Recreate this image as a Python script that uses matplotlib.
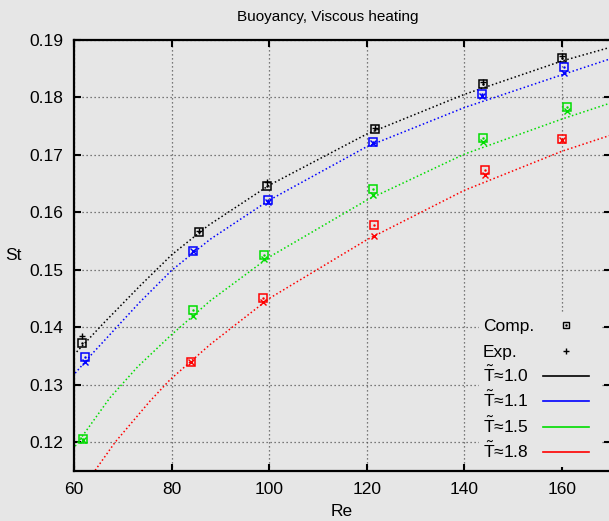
import matplotlib
matplotlib.use("Agg")
import matplotlib.pyplot as plt
from matplotlib.lines import Line2D
from matplotlib.patches import Rectangle

plt.rcParams['font.family'] = ['Liberation Sans', 'DejaVu Sans']
plt.rcParams['mathtext.fontset'] = 'custom'
plt.rcParams['mathtext.rm'] = 'Liberation Sans'
plt.rcParams['mathtext.it'] = 'Liberation Sans:italic'

# ---- data: markers (Comp. = squares, Exp. = crosses) ----
re_10 = [61.7, 85.6, 99.6, 121.7, 143.8, 160.1]
comp_10 = [0.1373, 0.1566, 0.1646, 0.1745, 0.1823, 0.1868]
exp_10 = [0.1384, 0.1567, 0.1652, 0.1746, 0.1826, 0.1872]

re_11 = [62.2, 84.4, 99.8, 121.2, 143.7, 160.5]
comp_11 = [0.1348, 0.1533, 0.1622, 0.1723, 0.1805, 0.1852]
exp_11 = [0.1340, 0.1532, 0.1617, 0.1721, 0.1803, 0.1843]

re_15 = [61.9, 84.3, 98.9, 121.2, 143.8, 161.1]
comp_15 = [0.1205, 0.1430, 0.1526, 0.1641, 0.1729, 0.1783]
exp_15 = [0.1204, 0.1420, 0.1518, 0.1630, 0.1723, 0.1776]

re_18 = [84.0, 98.8, 121.4, 144.3, 160.1]
comp_18 = [0.1339, 0.1450, 0.1578, 0.1673, 0.1728]
exp_18 = [0.1339, 0.1443, 0.1558, 0.1664, 0.1726]

# ---- data: fitted curves ----
fit_re_10 = [60.5, 65.8, 73.5, 80, 87.5, 100, 120, 140, 160, 170]
fit_st_10 = [0.1357, 0.1405, 0.1472, 0.1526, 0.1577, 0.1647, 0.1736, 0.1805, 0.1863, 0.1887]

fit_re_11 = [60.2, 63.6, 73.4, 80, 87.9, 100, 120, 140, 160, 170]
fit_st_11 = [0.1320, 0.1353, 0.1443, 0.1499, 0.1553, 0.1621, 0.1714, 0.1782, 0.1839, 0.1867]

fit_re_15 = [60.2, 67.3, 73.0, 79.7, 87.9, 100, 120, 140, 160, 170]
fit_st_15 = [0.1193, 0.1277, 0.1331, 0.1385, 0.1446, 0.1522, 0.1621, 0.1701, 0.1762, 0.1790]

fit_re_18 = [64.3, 68.4, 75.5, 79.7, 87.9, 100, 120, 140, 160, 170]
fit_st_18 = [0.1151, 0.1200, 0.1271, 0.1309, 0.1370, 0.1450, 0.1552, 0.1638, 0.1706, 0.1734]

x_ticks = [60, 80, 100, 120, 140, 160]
y_ticks = [0.12, 0.13, 0.14, 0.15, 0.16, 0.17, 0.18, 0.19]
labels_T = [r'$\tilde{\mathrm{T}}$≈1.0', r'$\tilde{\mathrm{T}}$≈1.1',
            r'$\tilde{\mathrm{T}}$≈1.5', r'$\tilde{\mathrm{T}}$≈1.8']
labels_pts = ['Comp.', 'Exp.']

BG = '#e6e6e6'
colors = ['#000000', '#0000ff', '#00dd00', '#ff0000']

W, H = 609, 521
fig = plt.figure(figsize=(W / 100, H / 100), dpi=100, facecolor=BG)


def fx(p):
    return p / W


def fy(p):
    return 1 - p / H


ax = fig.add_axes([fx(74.2), fy(470.9), (610.5 - 74.2) / W, (470.9 - 39.8) / H])
ax.set_facecolor(BG)

ax.set_xticks(x_ticks)
ax.set_yticks(y_ticks)
ax.set_xticklabels([str(v) for v in x_ticks])
ax.set_yticklabels([f'{v:.2f}' for v in y_ticks])
ax.set_xlim(60, 170)
ax.set_ylim(0.115, 0.19)
ax.grid(True, color='#555555', linestyle=(0, (1, 2.2)), linewidth=0.9)
ax.set_axisbelow(True)
ax.tick_params(direction='in', length=5, width=1.5, top=True, right=True,
               labelsize=12.5, pad=8)
for s in ax.spines.values():
    s.set_linewidth(1.6)

fits = [(fit_re_10, fit_st_10), (fit_re_11, fit_st_11),
        (fit_re_15, fit_st_15), (fit_re_18, fit_st_18)]
for (cx, cy), c in zip(fits, colors):
    ax.plot(cx, cy, color=c, linestyle=(0, (1, 1.6)), linewidth=1.1, zorder=2)

pts = [(re_10, comp_10, exp_10), (re_11, comp_11, exp_11),
       (re_15, comp_15, exp_15), (re_18, comp_18, exp_18)]
for i, ((rx, cy, ey), c) in enumerate(zip(pts, colors)):
    ax.plot(rx, cy, linestyle='none', marker='s', markersize=5.2,
            markerfacecolor='none', markeredgecolor=c, markeredgewidth=1.1, zorder=3)
    ax.plot(rx, cy, linestyle='none', marker='.', markersize=1.5,
            color=c, zorder=3)
    ax.plot(rx, ey, linestyle='none', marker='+' if i == 0 else 'x',
            markersize=4.5, markeredgecolor=c, markeredgewidth=1.0, zorder=3)

# ---- key (gnuplot style: text left, sample right) ----
fig.add_artist(Rectangle((fx(479), fy(467)), (601 - 479) / W, (467 - 312) / H,
                         transform=fig.transFigure, facecolor=BG,
                         edgecolor='none', zorder=5))
row_y = [325, 351, 376, 401, 427, 452]
text_x = 482.7
for k, lab in enumerate(labels_pts + labels_T):
    fig.text(fx(text_x), fy(row_y[k] + 6.2), lab, ha='left', va='baseline',
             fontsize=12.5, zorder=6)
fig.add_artist(Line2D([fx(566)], [fy(row_y[0])], transform=fig.transFigure,
                      linestyle='none', marker='s', markersize=5,
                      markerfacecolor='none', markeredgecolor='black',
                      markeredgewidth=1.0, zorder=6))
fig.add_artist(Line2D([fx(566)], [fy(row_y[0])], transform=fig.transFigure,
                      linestyle='none', marker='.', markersize=1.5,
                      color='black', zorder=6))
fig.add_artist(Line2D([fx(566)], [fy(row_y[1])], transform=fig.transFigure,
                      linestyle='none', marker='+', markersize=5,
                      markeredgecolor='black', markeredgewidth=1.0, zorder=6))
for k, c in enumerate(colors):
    yy = fy(row_y[2 + k])
    fig.add_artist(Line2D([fx(543.3), fx(589.3)], [yy, yy], transform=fig.transFigure,
                          color=c, linewidth=1.2, zorder=6))

fig.text(fx(328), fy(17), 'Buoyancy, Viscous heating', ha='center', va='center',
         fontsize=11)
fig.text(fx(342), fy(512), 'Re', ha='center', va='center', fontsize=12.5)
fig.text(fx(13), fy(255), 'St', ha='center', va='center', fontsize=12.5)

fig.savefig('out.png', dpi=100, facecolor=BG)
